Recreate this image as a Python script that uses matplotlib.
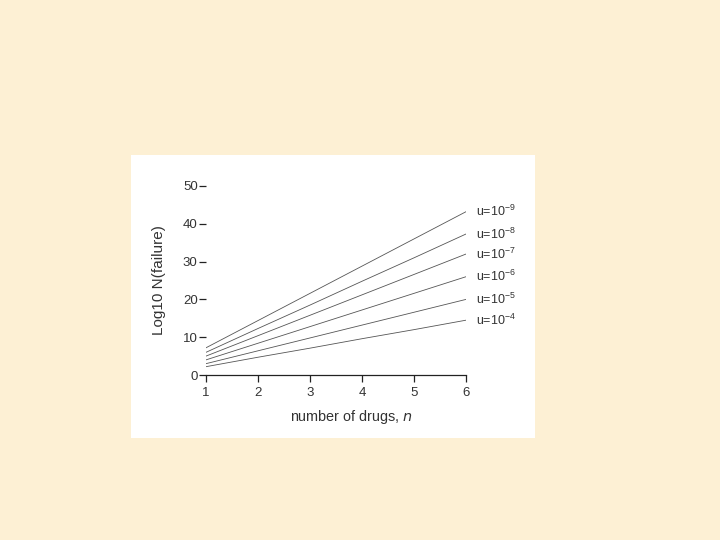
import numpy as np
import matplotlib
matplotlib.use('Agg')
import matplotlib.pyplot as plt

# number of drugs
n_drugs = [1, 2, 3, 4, 5, 6]

# log10 N(failure), one list per mutation rate
u_labels = ['-9', '-8', '-7', '-6', '-5', '-4']
logN = [
    [7.2, 14.4, 21.6, 28.8, 36.0, 43.2],
    [6.0, 12.3, 18.5, 24.8, 31.0, 37.3],
    [5.0, 10.4, 15.8, 21.2, 26.6, 32.0],
    [4.0, 8.4, 12.8, 17.2, 21.6, 26.0],
    [3.0, 6.4, 9.8, 13.2, 16.6, 20.0],
    [2.2, 4.7, 7.1, 9.6, 12.0, 14.5],
]

plt.rcParams['font.family'] = ['Liberation Sans', 'DejaVu Sans']
plt.rcParams['mathtext.fontset'] = 'custom'
plt.rcParams['mathtext.rm'] = 'Liberation Sans'

txt = '#333333'
fig = plt.figure(figsize=(7.2, 5.4), dpi=100)
fig.patch.set_facecolor('#FDF0D4')

# white panel behind the chart
panel = fig.add_axes([131/720, 102/540, 404/720, 283/540])
panel.set_facecolor('white')
panel.set_xticks([])
panel.set_yticks([])
for s in panel.spines.values():
    s.set_visible(False)

ax = fig.add_axes([206/720, 165/540, 260/720, 189/540])
ax.patch.set_alpha(0)
for row, lab in zip(logN, u_labels):
    ax.plot(n_drugs, row, color='#555555', lw=0.6)
    ax.text(6.2, row[-1], 'u=10$^{' + lab + '}$', fontsize=9, color=txt,
            va='center', ha='left', clip_on=False)

ax.set_xlim(1, 6)
ax.set_ylim(0, 50)
ax.set_xticks(n_drugs)
ax.set_yticks([0, 10, 20, 30, 40, 50])
ax.spines['left'].set_visible(False)
ax.spines['top'].set_visible(False)
ax.spines['right'].set_visible(False)
ax.spines['bottom'].set_color('#222222')
ax.spines['bottom'].set_linewidth(0.9)
ax.tick_params(axis='both', direction='out', length=5, width=0.9,
               colors='#222222', labelcolor=txt, labelsize=9.5)
ax.tick_params(axis='y', pad=1)

ax.set_xlabel('number of drugs, $\\it{n}$', fontsize=10.4, color=txt)
ax.xaxis.set_label_coords(0.56, -0.175)
ax.set_ylabel('Log10 N(failure)', fontsize=11, color=txt, labelpad=12)

fig.savefig('out.png', dpi=100, facecolor=fig.get_facecolor())
